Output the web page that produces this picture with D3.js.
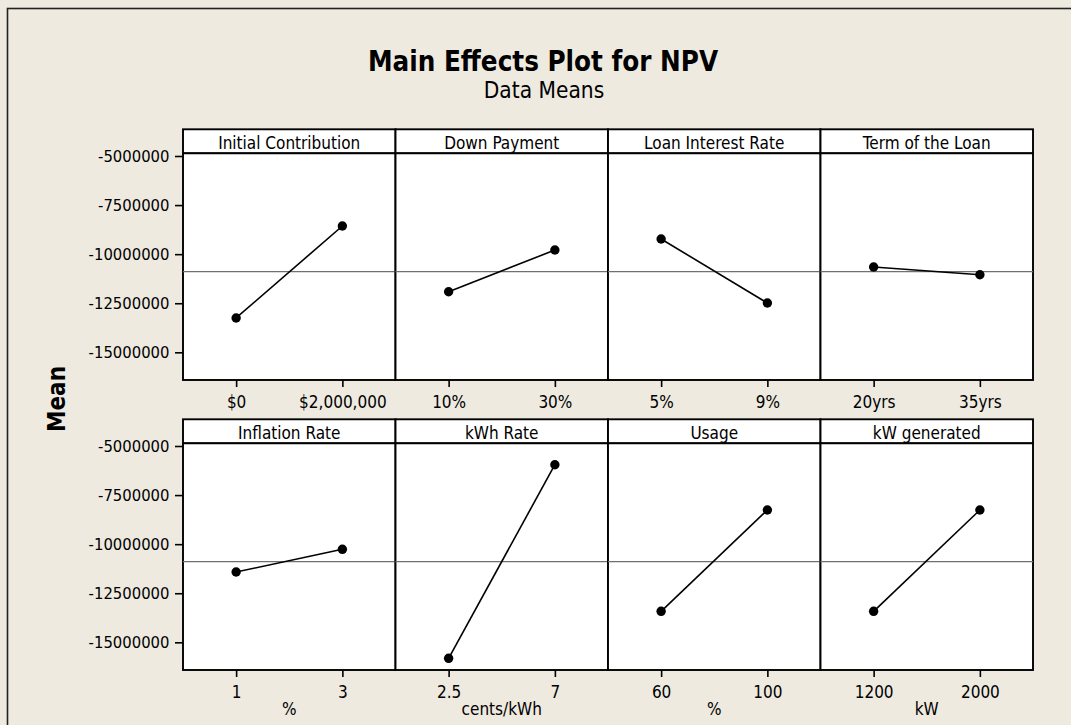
<!DOCTYPE html>
<html>
<head>
<meta charset="utf-8">
<script src="https://cdn.jsdelivr.net/npm/d3@7"></script>
<style>
    body { margin: 0; background: #eeeae0; }
    text { font-family: "DejaVu Sans Condensed", "DejaVu Sans", sans-serif; font-stretch: condensed; fill: #000; }
</style>
</head>
<body>
<div id="vis"></div>
<script>
// factor names, one per panel (top row, then bottom row)
const factors = ["Initial Contribution", "Down Payment", "Loan Interest Rate", "Term of the Loan",
                 "Inflation Rate", "kWh Rate", "Usage", "kW generated"];
// level labels on each panel's x axis
const levels = [["$0", "$2,000,000"], ["10%", "30%"], ["5%", "9%"], ["20yrs", "35yrs"],
                ["1", "3"], ["2.5", "7"], ["60", "100"], ["1200", "2000"]];
// mean NPV at low and high level
const lowMeans  = [-13250000, -11913000, -9228000, -10655000, -11419000, -15815000, -13421000, -13421000];
const highMeans = [-8566000, -9789000, -12488000, -11047000, -10262000, -5953000, -8260000, -8260000];
// unit labels under the bottom row
const units = ["", "", "", "", "%", "cents/kWh", "%", "kW"];
const yTicks = [-5000000, -7500000, -10000000, -12500000, -15000000];
const grandMean = -10890000;

function createVis() {
    const width = 1071;
    const height = 725;

    const svg = d3.select("#vis").append("svg")
        .attr("width", width)
        .attr("height", height);

    svg.append("rect")
        .attr("width", width)
        .attr("height", height)
        .attr("fill", "#eeeae0");

    // outer frame, cut off at right and bottom like the original
    svg.append("rect")
        .attr("x", 7.5)
        .attr("y", 8.5)
        .attr("width", width + 20)
        .attr("height", height + 20)
        .attr("fill", "none")
        .attr("stroke", "#222")
        .attr("stroke-width", 1.6);

    svg.append("text")
        .attr("x", 543)
        .attr("y", 70.5)
        .attr("text-anchor", "middle")
        .attr("font-size", "27.5px")
        .attr("font-weight", "bold")
        .text("Main Effects Plot for NPV");

    svg.append("text")
        .attr("x", 544)
        .attr("y", 98)
        .attr("text-anchor", "middle")
        .attr("font-size", "22.5px")
        .text("Data Means");

    svg.append("text")
        .attr("transform", "translate(65,399) rotate(-90)")
        .attr("text-anchor", "middle")
        .attr("font-size", "24px")
        .attr("font-weight", "bold")
        .text("Mean");

    const colScale = d3.scaleBand().domain(d3.range(4)).range([183, 1033]);
    const rowTops = [153.3, 443.3];
    const panelW = colScale.bandwidth();
    const plotH = 226.7;
    const stripH = 24;

    const y = d3.scaleLinear()
        .domain([-16410000, -4862500])
        .range([plotH, 0]);

    const line = d3.line();

    factors.forEach((name, i) => {
        const col = i % 4;
        const row = Math.floor(i / 4);
        const g = svg.append("g")
            .attr("transform", `translate(${colScale(col)},${rowTops[row]})`);

        const x = d3.scalePoint()
            .domain(levels[i])
            .range([0, panelW])
            .padding(0.5);

        g.append("rect")
            .attr("y", -stripH)
            .attr("width", panelW)
            .attr("height", stripH)
            .attr("fill", "white")
            .attr("stroke", "#000")
            .attr("stroke-width", 1.9);

        g.append("text")
            .attr("x", panelW / 2)
            .attr("y", -4.5)
            .attr("text-anchor", "middle")
            .attr("font-size", "17px")
            .text(name);

        g.append("rect")
            .attr("width", panelW)
            .attr("height", plotH)
            .attr("fill", "white")
            .attr("stroke", "#000")
            .attr("stroke-width", 1.9);

        g.append("line")
            .attr("x1", 0)
            .attr("x2", panelW)
            .attr("y1", y(grandMean))
            .attr("y2", y(grandMean))
            .attr("stroke", "#707070")
            .attr("stroke-width", 1.3);

        const pts = [[x(levels[i][0]), y(lowMeans[i])], [x(levels[i][1]), y(highMeans[i])]];

        g.append("path")
            .attr("d", line(pts))
            .attr("fill", "none")
            .attr("stroke", "#000")
            .attr("stroke-width", 1.6);

        g.selectAll("circle")
            .data(pts)
            .join("circle")
            .attr("cx", d => d[0])
            .attr("cy", d => d[1])
            .attr("r", 4.7)
            .attr("fill", "#000");

        const xAxis = g.append("g")
            .attr("transform", `translate(0,${plotH})`)
            .call(d3.axisBottom(x).tickSize(7).tickPadding(9));
        xAxis.select(".domain").remove();
        xAxis.selectAll("line").attr("stroke-width", 1.6);
        xAxis.selectAll("text").attr("font-size", "17px").attr("font-family", null);

        if (col === 0) {
            const yAxis = g.append("g")
                .call(d3.axisLeft(y).tickValues(yTicks).tickSize(8).tickPadding(5.5).tickFormat(d => String(d)));
            yAxis.select(".domain").remove();
            yAxis.selectAll("line").attr("stroke-width", 1.6);
            yAxis.selectAll("text").attr("font-size", "16.5px").attr("font-family", null);
        }

        if (units[i]) {
            g.append("text")
                .attr("x", panelW / 2)
                .attr("y", plotH + 45)
                .attr("text-anchor", "middle")
                .attr("font-size", "17px")
                .text(units[i]);
        }
    });
}

window.addEventListener("load", createVis);
</script>
</body>
</html>
